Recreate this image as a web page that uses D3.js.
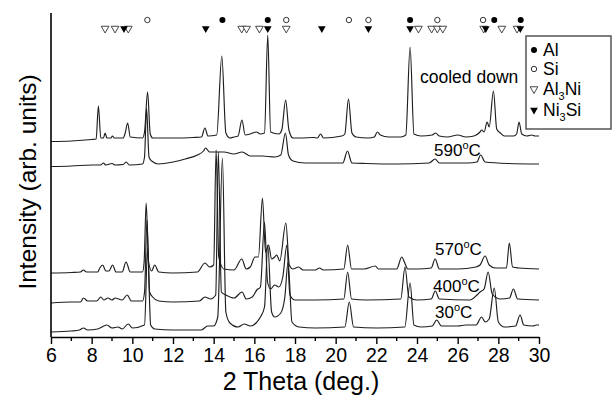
<!DOCTYPE html>
<html>
<head>
<meta charset="utf-8">
<script src="https://cdn.jsdelivr.net/npm/d3@7"></script>
<style>
  body { margin: 0; background: #fff; }
  svg { display: block; font-family: "Liberation Sans", Arial, sans-serif; }
</style>
</head>
<body>
<svg width="613" height="396"></svg>
<script>
// 2 theta (deg.) vs intensity (arb. units)
const cooledDown = [
  [6.0, 195.5], [7.0, 196], [8.0, 197.5], [8.22, 198], [8.33, 231], [8.45, 199], [8.58, 199],
  [8.66, 204], [8.75, 199], [8.95, 199], [9.02, 201], [9.12, 199], [9.55, 199], [9.65, 204],
  [9.77, 214], [9.9, 200], [10.5, 199], [10.6, 205], [10.75, 245], [10.88, 203], [11.0, 199],
  [12.0, 199], [13.0, 199.5], [13.4, 200], [13.57, 209], [13.72, 201], [14.15, 202], [14.4, 281],
  [14.6, 204], [14.8, 199], [15.0, 200], [15.2, 201], [15.39, 217], [15.55, 202], [15.8, 203],
  [16.1, 205], [16.3, 203], [16.5, 204], [16.66, 302], [16.8, 205], [17.2, 203], [17.35, 207],
  [17.54, 237], [17.7, 207], [17.9, 199], [18.3, 199], [18.9, 199.5], [19.1, 199], [19.26, 203],
  [19.4, 199], [20.3, 201], [20.45, 203], [20.63, 238], [20.8, 204], [21.0, 200], [21.6, 199],
  [21.9, 200], [22.05, 205], [22.2, 202], [22.6, 200], [23.2, 200], [23.45, 202], [23.66, 290],
  [23.85, 203], [24.2, 201], [24.75, 202], [24.92, 204], [25.1, 201], [25.5, 200], [26.0, 202],
  [26.4, 200], [26.8, 201], [27.1, 205], [27.18, 207], [27.3, 205], [27.45, 215], [27.55, 210],
  [27.76, 246], [27.92, 208], [28.1, 204], [28.3, 201], [28.75, 201], [28.9, 203], [29.02, 215],
  [29.15, 203], [29.4, 201], [29.65, 202], [29.8, 201], [30.0, 201]
]
const t590 = [
  [6.0, 170.5], [7.0, 171], [8.0, 172], [8.45, 172], [8.57, 174], [8.7, 172], [9.0, 173.5],
  [9.15, 172], [9.55, 172.5], [9.7, 175], [9.85, 172], [10.5, 173], [10.6, 180], [10.7, 229],
  [10.82, 180], [10.95, 176], [11.3, 173], [12.0, 175], [12.6, 178], [13.2, 182], [13.5, 186],
  [13.6, 189], [13.8, 185], [14.5, 185], [15.0, 183], [15.4, 185], [15.8, 181], [16.4, 181],
  [17.0, 180], [17.3, 182], [17.53, 204], [17.68, 182], [17.9, 176], [18.5, 174], [19.5, 174],
  [20.35, 174], [20.58, 186], [20.8, 174], [21.5, 173.5], [23.0, 173], [24.6, 174], [24.89, 178],
  [25.1, 174], [26.5, 174], [26.95, 175], [27.13, 182], [27.35, 175], [28.5, 173.5], [30.0, 173]
]
const t570 = [
  [6.0, 64], [7.0, 64.5], [7.45, 65], [7.59, 67], [7.75, 65], [8.3, 65], [8.4, 69], [8.54, 72],
  [8.7, 66], [8.85, 66], [9.03, 72], [9.2, 65], [9.5, 65], [9.69, 75], [9.9, 65], [10.5, 65],
  [10.58, 75], [10.68, 134], [10.8, 75], [10.95, 66], [11.1, 72], [11.3, 65], [12.0, 64],
  [13.2, 65], [13.57, 74], [13.8, 70], [14.0, 72], [14.12, 187], [14.25, 80], [14.5, 68],
  [15.0, 67], [15.38, 78], [15.6, 68], [15.8, 70], [16.03, 80], [16.2, 80], [16.4, 139],
  [16.55, 85], [16.7, 92], [16.85, 78], [17.0, 80], [17.1, 82], [17.25, 76], [17.55, 114],
  [17.72, 72], [17.9, 68], [18.17, 70], [18.4, 67], [19.0, 67], [19.2, 69], [19.4, 67],
  [20.4, 68], [20.59, 92], [20.78, 68], [21.4, 68], [21.95, 71], [22.1, 68], [23.0, 68],
  [23.25, 80], [23.4, 74], [23.55, 68], [24.0, 68], [24.7, 69], [24.89, 78], [25.1, 68],
  [26.0, 68], [26.9, 70], [27.1, 72], [27.35, 81], [27.55, 72], [27.85, 69], [28.4, 69],
  [28.54, 94], [28.7, 70], [29.0, 69], [30.0, 68]
]
const t400 = [
  [6.0, 34], [7.0, 35], [7.45, 35], [7.6, 39], [7.8, 36], [8.25, 36], [8.45, 40], [8.6, 37],
  [8.8, 39], [9.0, 37], [9.15, 39], [9.5, 37], [9.75, 42], [9.95, 36], [10.5, 36], [10.6, 45],
  [10.72, 117], [10.85, 45], [11.0, 40], [11.3, 36], [12.0, 35], [13.3, 36], [13.57, 40],
  [13.85, 38], [14.1, 42], [14.23, 185], [14.38, 45], [14.6, 42], [15.0, 39], [15.4, 45],
  [15.6, 38], [15.9, 40], [16.12, 47], [16.3, 50], [16.5, 115], [16.65, 55], [16.8, 48],
  [17.0, 52], [17.2, 50], [17.4, 60], [17.6, 92], [17.75, 42], [18.0, 37], [19.0, 37],
  [20.4, 38], [20.59, 65], [20.78, 38], [21.5, 37], [23.2, 38], [23.41, 70], [23.6, 40],
  [24.0, 37], [24.7, 38], [24.9, 46], [25.1, 38], [26.6, 37], [26.95, 42], [27.1, 45],
  [27.3, 48], [27.5, 65], [27.7, 43], [28.1, 38], [28.55, 39], [28.74, 48], [28.95, 38],
  [30.0, 37]
]
const t30 = [
  [6.0, 5], [7.0, 6], [7.4, 7], [7.6, 9], [7.8, 7], [8.3, 8], [8.75, 12], [9.0, 9], [9.3, 10],
  [9.5, 8], [9.8, 13], [10.0, 9], [10.6, 12], [10.75, 89], [10.9, 12], [11.1, 8], [12.0, 7],
  [13.4, 7], [13.7, 11], [14.0, 11], [14.2, 20], [14.43, 179], [14.6, 25], [14.8, 14],
  [15.2, 10], [15.5, 13], [15.8, 11], [16.3, 20], [16.5, 30], [16.66, 92], [16.85, 25],
  [17.0, 20], [17.3, 24], [17.5, 40], [17.66, 75], [17.85, 15], [18.2, 10], [19.0, 9],
  [20.45, 10], [20.67, 35], [20.88, 10], [22.0, 9], [23.4, 10], [23.66, 54], [23.85, 12],
  [24.2, 10], [24.75, 11], [24.97, 17], [25.2, 11], [26.0, 11], [26.4, 12], [26.9, 12],
  [27.18, 20], [27.35, 15], [27.55, 18], [27.8, 49], [28.0, 15], [28.3, 10], [28.85, 11],
  [29.07, 22], [29.25, 12], [29.7, 11], [29.88, 12], [30.0, 12]
]

// phase reflection positions (2 theta)
const alPeaks = [14.43, 16.66, 23.66, 27.8, 29.1]
const siPeaks = [10.74, 17.57, 20.65, 21.61, 25.0, 27.25]
const al3niPeaks = [8.66, 9.15, 9.8, 15.38, 15.62, 16.25, 17.57, 24.07, 24.72, 25.0, 25.27, 27.28, 28.17, 28.92]
const ni3siPeaks = [9.59, 13.61, 16.66, 19.32, 21.61, 23.66, 27.38, 29.08]

const xTicks = [6, 8, 10, 12, 14, 16, 18, 20, 22, 24, 26, 28, 30]
const xMinorTicks = [7, 9, 11, 13, 15, 17, 19, 21, 23, 25, 27, 29]

const svg = d3.select('svg')

const x = d3.scaleLinear().domain([6, 30]).range([51, 539])
const y = d3.scaleLinear().domain([0, 324]).range([337, 13])

const line = d3.line()
  .curve(d3.curveMonotoneX)
  .x(d => x(d[0]))
  .y(d => y(d[1]))

const traces = [cooledDown, t590, t570, t400, t30]

svg.append('g')
  .attr('fill', 'none')
  .attr('stroke', '#1e1e1e')
  .attr('stroke-width', 1.15)
  .attr('stroke-linejoin', 'round')
  .selectAll('path')
  .data(traces)
  .join('path')
    .attr('d', line)

// axes
const xAxis = g => g
  .attr('transform', `translate(0, ${y(0)})`)
  .call(d3.axisBottom(x).tickValues(xTicks).tickSize(7).tickSizeOuter(0).tickPadding(4))
  .call(g => g.select('.domain').attr('stroke-width', 1.6))
  .call(g => g.selectAll('.tick line').attr('stroke-width', 1.4))
  .call(g => g.selectAll('.tick text')
    .attr('font-size', 19.5)
    .attr('font-family', '"Liberation Sans", Arial, sans-serif')
    .attr('fill', '#000'))

svg.append('g').call(xAxis)

svg.append('g')
  .selectAll('line')
  .data(xMinorTicks)
  .join('line')
    .attr('x1', d => x(d)).attr('x2', d => x(d))
    .attr('y1', y(0)).attr('y2', y(0) + 4)
    .attr('stroke', '#000')
    .attr('stroke-width', 1.4)

svg.append('line')
  .attr('x1', x(6)).attr('x2', x(6))
  .attr('y1', y(324)).attr('y2', y(0))
  .attr('stroke', '#000')
  .attr('stroke-width', 1.6)

svg.append('text')
  .attr('x', 301)
  .attr('y', 390)
  .attr('text-anchor', 'middle')
  .attr('font-size', 25)
  .text('2 Theta (deg.)')

svg.append('text')
  .attr('transform', 'translate(36, 182) rotate(-90)')
  .attr('text-anchor', 'middle')
  .attr('font-size', 24.5)
  .text('Intensity (arb. units)')

// trace labels
function tempLabel(xPos, yPos, num) {
  const t = svg.append('text')
    .attr('x', xPos)
    .attr('y', yPos)
    .attr('font-size', 17)
  t.append('tspan').text(num)
  t.append('tspan').attr('font-size', 11).attr('dy', -7).text('o')
  t.append('tspan').attr('dy', 7).text('C')
}
tempLabel(434, 156, '590')
tempLabel(435, 255, '570')
tempLabel(433, 292, '400')
tempLabel(435, 318, '30')

svg.append('text')
  .attr('x', 420)
  .attr('y', 83)
  .attr('font-size', 17.5)
  .text('cooled down')

// phase markers
const circleRow = 317
const triRow = 308.5
const tri = d3.symbol().type(d3.symbolTriangle).size(26)

svg.append('g')
  .selectAll('circle')
  .data(alPeaks)
  .join('circle')
    .attr('cx', d => x(d)).attr('cy', y(circleRow)).attr('r', 3)
    .attr('fill', '#000')

svg.append('g')
  .selectAll('circle')
  .data(siPeaks)
  .join('circle')
    .attr('cx', d => x(d)).attr('cy', y(circleRow)).attr('r', 2.7)
    .attr('fill', '#fff').attr('stroke', '#333').attr('stroke-width', 1)

svg.append('g')
  .selectAll('path')
  .data(al3niPeaks)
  .join('path')
    .attr('d', tri)
    .attr('transform', d => `translate(${x(d)}, ${y(triRow)}) rotate(180)`)
    .attr('fill', '#fff').attr('stroke', '#333').attr('stroke-width', 0.9)

svg.append('g')
  .selectAll('path')
  .data(ni3siPeaks)
  .join('path')
    .attr('d', tri)
    .attr('transform', d => `translate(${x(d)}, ${y(triRow)}) rotate(180)`)
    .attr('fill', '#000')

// legend
const legend = svg.append('g')
legend.append('rect')
  .attr('x', 526).attr('y', 36)
  .attr('width', 85).attr('height', 93)
  .attr('fill', '#fff')
  .attr('stroke', '#555')
  .attr('stroke-width', 1.5)

const legendRows = [50, 69, 89, 110]
const lx = 534

legend.append('circle').attr('cx', lx).attr('cy', legendRows[0]).attr('r', 3).attr('fill', '#000')
legend.append('circle').attr('cx', lx).attr('cy', legendRows[1]).attr('r', 2.7)
  .attr('fill', '#fff').attr('stroke', '#333')
legend.append('path').attr('d', tri)
  .attr('transform', `translate(${lx}, ${legendRows[2]}) rotate(180)`)
  .attr('fill', '#fff').attr('stroke', '#333').attr('stroke-width', 0.9)
legend.append('path').attr('d', tri)
  .attr('transform', `translate(${lx}, ${legendRows[3]}) rotate(180)`)
  .attr('fill', '#000')

function legendText(row, parts) {
  const t = legend.append('text')
    .attr('x', 543)
    .attr('y', legendRows[row] + 6)
    .attr('font-size', 17.5)
  parts.forEach(p => {
    if (p.sub) {
      t.append('tspan').attr('font-size', 11).attr('dy', 5).text(p.text)
    } else {
      t.append('tspan').attr('dy', p.after ? -5 : 0).text(p.text)
    }
  })
}
legendText(0, [{text: 'Al'}])
legendText(1, [{text: 'Si'}])
legendText(2, [{text: 'Al'}, {text: '3', sub: true}, {text: 'Ni', after: true}])
legendText(3, [{text: 'Ni'}, {text: '3', sub: true}, {text: 'Si', after: true}])
</script>
</body>
</html>
